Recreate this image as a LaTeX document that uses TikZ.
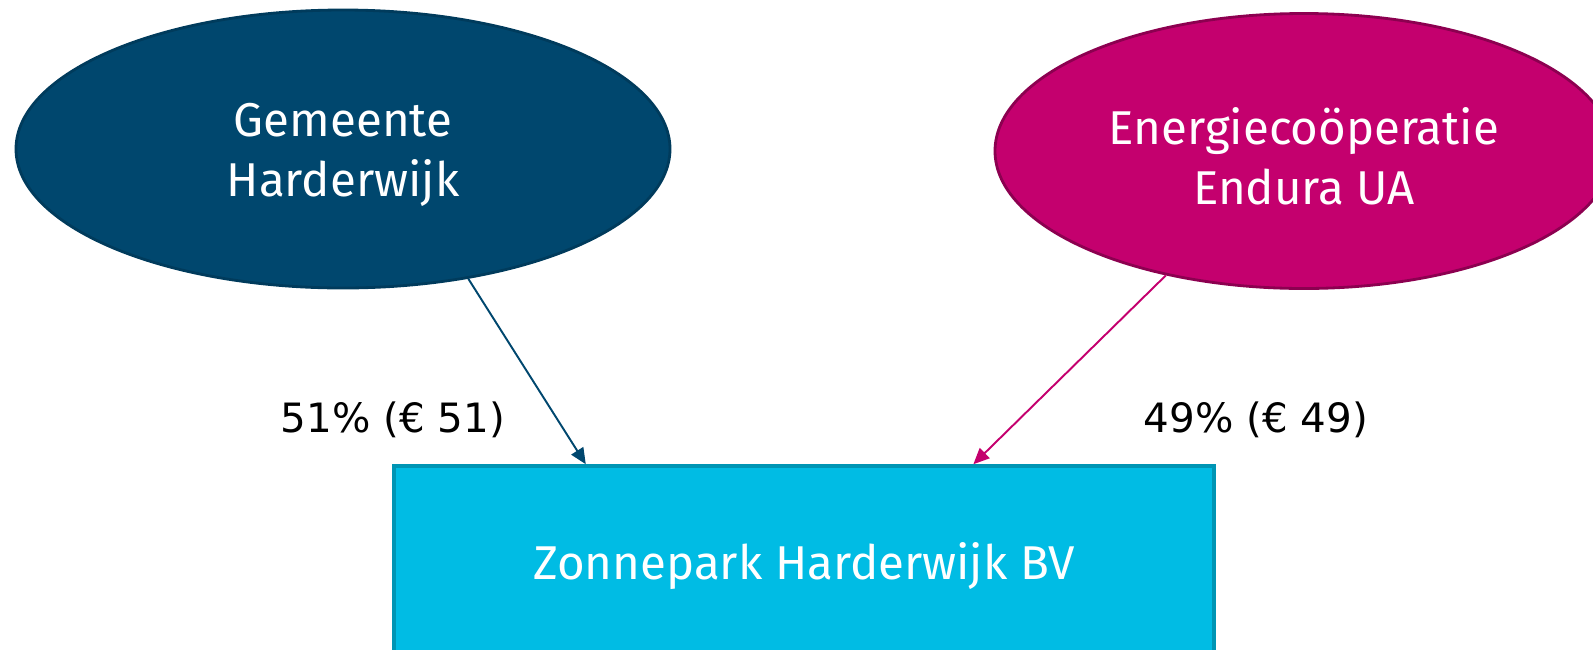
\documentclass[tikz,border=0pt]{standalone}
\usepackage{fontspec}
\setmainfont{Fira Sans}
\newfontfamily\labelfont{DejaVu Sans}
\usetikzlibrary{arrows.meta}
\usetikzlibrary{shapes.geometric}

\definecolor{gemblue}{HTML}{00476E}
\definecolor{gemedge}{HTML}{003B5C}
\definecolor{endmag}{HTML}{C4006E}
\definecolor{endedge}{HTML}{8C0050}
\definecolor{zoncyan}{HTML}{00BCE4}
\definecolor{zonedge}{HTML}{0095B4}

\begin{document}
\begin{tikzpicture}
\useasboundingbox (0,0) rectangle (31.86,-12.98);
\clip (0,0) rectangle (31.86,-12.98);
\begin{scope}[every node/.style={text=white,align=center,line width=1.6pt,
              font=\fontsize{27}{34}\selectfont}]
    \node [ellipse,draw=gemedge,fill=gemblue,minimum width=13.08cm,minimum height=5.56cm]
        (gem) at (6.86,-2.98) {};
    \node (gemtext) at (6.86,-3.1) {Gemeente\\Harderwijk};
    \node [ellipse,draw=endedge,fill=endmag,minimum width=12.36cm,minimum height=5.5cm]
        (end) at (26.08,-3.02) {};
    \node (endtext) at (26.08,-3.12) {Energiecoöperatie\\Endura UA};
    \node [rectangle,draw=zonedge,fill=zoncyan,minimum width=16.4cm,minimum height=4cm,
           line width=2pt]
        (zon) at (16.08,-11.32) {};
    \node (zontext) at (16.08,-11.32) {Zonnepark Harderwijk BV};
\end{scope}

\begin{scope}[every node/.style={font=\labelfont\fontsize{23}{27}\selectfont}]
    \node (pgem) at (7.86,-8.4) {51\% (€ 51)};
    \node (pend) at (25.12,-8.4) {49\% (€ 49)};
\end{scope}

\begin{scope}[>={Triangle[length=0.32cm,width=0.28cm]},line width=1.1pt]
    \draw [->,draw=gemblue,fill=gemblue] (gem.-46.4) -- (zon.155.8);
    \draw [->,draw=endmag,fill=endmag] (end.-138.3) -- (zon.31.5);
\end{scope}
\end{tikzpicture}
\end{document}
